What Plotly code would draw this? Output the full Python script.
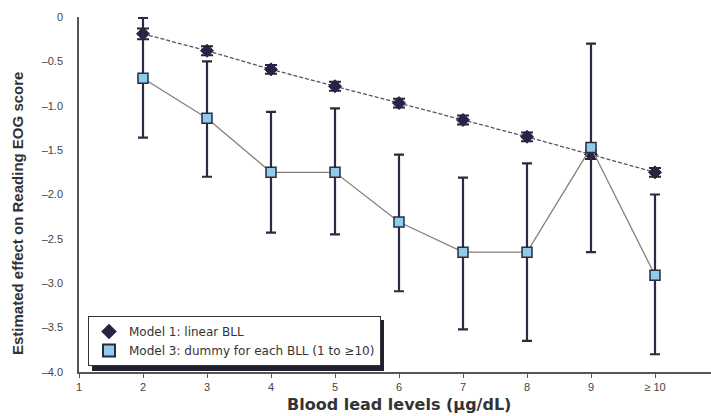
import plotly.graph_objects as go

bll = [2, 3, 4, 5, 6, 7, 8, 9, 10]
x_tickvals = [1, 2, 3, 4, 5, 6, 7, 8, 9, 10]
x_ticktext = ["1", "2", "3", "4", "5", "6", "7", "8", "9", "\u2265 10"]
y_tickvals = [0, -0.5, -1.0, -1.5, -2.0, -2.5, -3.0, -3.5, -4.0]
y_ticktext = ["0", "\u20130.5", "\u20131.0", "\u20131.5", "\u20132.0", "\u20132.5", "\u20133.0", "\u20133.5", "\u20134.0"]

m1_est = [-0.19, -0.38, -0.59, -0.78, -0.97, -1.16, -1.35, -1.55, -1.75]
m1_err = [0.06, 0.05, 0.05, 0.05, 0.05, 0.05, 0.05, 0.05, 0.05]

m3_est = [-0.69, -1.14, -1.75, -1.75, -2.31, -2.65, -2.65, -1.47, -2.91]
m3_upper = [-0.01, -0.50, -1.07, -1.03, -1.55, -1.81, -1.65, -0.30, -2.00]
m3_lower = [-1.36, -1.80, -2.43, -2.45, -3.09, -3.52, -3.65, -2.65, -3.80]

m3_plus = [u - e for u, e in zip(m3_upper, m3_est)]
m3_minus = [e - l for e, l in zip(m3_est, m3_lower)]

name1 = "Model 1: linear BLL"
name3 = "Model 3: dummy for each BLL (1 to \u226510)"

dark = "#2b2140"
sq_fill = "#8fcbea"
sq_line = "#2a2a45"

fig = go.Figure()
fig.add_trace(go.Scatter(
    x=bll, y=m1_est, mode="lines+markers", name=name1, showlegend=False,
    line=dict(color="#5a5460", width=1.3, dash="4px,2px"),
    marker=dict(symbol="diamond", size=10, color=dark, line=dict(color=dark, width=1)),
    error_y=dict(type="data", array=m1_err, symmetric=True, color=dark, thickness=2, width=6),
))
fig.add_trace(go.Scatter(
    x=bll, y=m3_est, mode="lines+markers", name=name3, showlegend=False,
    line=dict(color="#8a7f78", width=1.3),
    marker=dict(symbol="square", size=10, color=sq_fill, line=dict(color=sq_line, width=1.5)),
    error_y=dict(type="data", array=m3_plus, arrayminus=m3_minus, symmetric=False,
                 color="#2a2a40", thickness=2.2, width=5),
))
# legend-only entries (marker only, as in the reference)
fig.add_trace(go.Scatter(x=[None], y=[None], mode="markers", name=name1,
                         marker=dict(symbol="diamond", size=10, color=dark)))
fig.add_trace(go.Scatter(x=[None], y=[None], mode="markers", name=name3,
                         marker=dict(symbol="square", size=9, color=sq_fill, line=dict(color=sq_line, width=1.5))))

L, T, W, H = 79, 17, 632, 355

def px_x(p):
    return (p - L) / W

def px_y(p):
    return (T + H - p) / H

LEG_TOP = 316
# legend shadow
fig.add_shape(type="rect", xref="paper", yref="paper",
              x0=px_x(92), x1=px_x(384), y0=px_y(LEG_TOP + 55), y1=px_y(LEG_TOP + 4),
              fillcolor="#222030", line=dict(width=0), layer="below")

fig.add_annotation(text="<b>Blood lead levels (\u00b5g/dL)</b>", xref="paper", yref="paper",
                   x=px_x(399), y=px_y(404), xanchor="center", yanchor="middle", showarrow=False,
                   font=dict(size=16, family="DejaVu Sans, sans-serif", color="#333"))
fig.add_annotation(text="<b>Estimated effect on Reading EOG score</b>", xref="paper", yref="paper",
                   x=px_x(18), y=px_y(214), xanchor="center", yanchor="middle", showarrow=False,
                   textangle=-90,
                   font=dict(size=15, family="Liberation Sans Narrow, Arial Narrow, sans-serif", color="#333"))

fig.update_layout(
    width=711, height=416,
    margin=dict(l=L, r=0, t=T, b=416 - T - H),
    plot_bgcolor="white", paper_bgcolor="white",
    font=dict(family="Liberation Sans, Arial, sans-serif", color="#333"),
    showlegend=True,
    legend=dict(x=px_x(88), y=px_y(LEG_TOP), xanchor="left", yanchor="top",
                bgcolor="white", bordercolor="#333", borderwidth=1,
                font=dict(size=12, family="DejaVu Sans, sans-serif", color="#333"), tracegroupgap=0,
                itemwidth=30, itemsizing="constant"),
    xaxis=dict(range=[1, 10.875], tickvals=x_tickvals, ticktext=x_ticktext, automargin=False,
               showgrid=False, zeroline=False, showline=True, linecolor="#555", linewidth=1.5,
               ticks="outside", ticklen=4, tickcolor="#555",
               tickfont=dict(size=11, color="#444")),
    yaxis=dict(range=[-4, 0], tickvals=y_tickvals, ticktext=y_ticktext, automargin=False,
               showgrid=False, zeroline=False, showline=True, linecolor="#555", linewidth=1.5,
               ticks="", ticklabelstandoff=12, tickfont=dict(size=11, color="#444")),
)

fig.write_html("out.html", config={"displayModeBar": False},
               post_script="document.body.style.margin='0';")
